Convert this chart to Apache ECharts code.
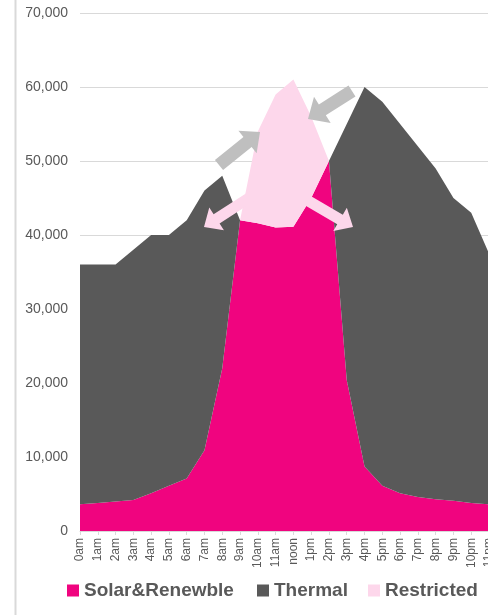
<!DOCTYPE html>
<html>
<head>
<meta charset="utf-8">
<script src="https://cdn.jsdelivr.net/npm/echarts@6/dist/echarts.min.js"></script>
<style>
  html, body { margin: 0; padding: 0; background: #fff; }
  #chart { width: 488px; height: 615px; }
</style>
</head>
<body>
<div id="chart"></div>
<script>
// hours of the day
const hours = ["0am", "1am", "2am", "3am", "4am", "5am", "6am", "7am", "8am", "9am", "10am", "11am",
  "noon", "1pm", "2pm", "3pm", "4pm", "5pm", "6pm", "7pm", "8pm", "9pm", "10pm", "11pm"];

// stacked values
const solar = [3600, 3800, 4000, 4200, 5100, 6100, 7100, 10900, 22000, 42000, 41600, 41000,
  41100, 45000, 50000, 20400, 8700, 6100, 5100, 4600, 4300, 4100, 3800, 3600];
const thermal = [32400, 32200, 32000, 33800, 34900, 33900, 34900, 35100, 26000, 0, 0, 0,
  0, 0, 0, 34600, 51300, 51900, 49900, 47400, 44700, 40900, 39200, 33900];
const restricted = [0, 0, 0, 0, 0, 0, 0, 0, 0, 0, 12400, 18000,
  19900, 11000, 0, 0, 0, 0, 0, 0, 0, 0, 0, 0];

const C_SOLAR = "#F0047F";
const C_THERMAL = "#595959";
const C_RESTRICTED = "#FDD7EB";
const C_ARROW = "#BFBFBF";

// block arrow polygon from tail to tip
function arrow(tail, tip, shaft, headW, headL, color) {
  const dx = tip[0] - tail[0], dy = tip[1] - tail[1];
  const len = Math.sqrt(dx * dx + dy * dy);
  const ux = dx / len, uy = dy / len;
  const nx = -uy, ny = ux;
  const bx = tip[0] - ux * headL, by = tip[1] - uy * headL;
  const s = shaft / 2, h = headW / 2;
  return {
    type: "polygon",
    z: 100,
    shape: {
      points: [
        [tail[0] + nx * s, tail[1] + ny * s],
        [bx + nx * s, by + ny * s],
        [bx + nx * h, by + ny * h],
        tip,
        [bx - nx * h, by - ny * h],
        [bx - nx * s, by - ny * s],
        [tail[0] - nx * s, tail[1] - ny * s],
      ],
    },
    style: { fill: color },
  };
}

// one legend per item so each sits where it does in the picture
function legendAt(name, left) {
  return {
    left: left,
    bottom: 10,
    icon: "rect",
    itemWidth: 12,
    itemHeight: 12,
    textStyle: { fontSize: 19, fontWeight: "bold", color: "#595959" },
    data: [name],
  };
}

const chart = echarts.init(document.getElementById("chart"));

const areaSeries = (name, data, color) => ({
  name: name,
  type: "line",
  stack: "total",
  data: data,
  symbol: "none",
  lineStyle: { width: 0 },
  areaStyle: { color: color, opacity: 1 },
  itemStyle: { color: color },
});

chart.setOption({
  backgroundColor: "#fff",
  animation: false,
  textStyle: { fontFamily: "Liberation Sans, Arial, sans-serif" },
  grid: { left: 80, top: 13, bottom: 84, width: 409, containLabel: false, outerBoundsMode: "none" },
  legend: [
    legendAt("Solar&Renewble", 62),
    legendAt("Thermal", 252),
    legendAt("Restricted", 363),
  ],
  xAxis: {
    type: "category",
    boundaryGap: false,
    data: hours,
    axisLine: { lineStyle: { color: "#D9D9D9" } },
    axisTick: { show: true, length: 4, lineStyle: { color: "#D9D9D9" } },
    axisLabel: { rotate: 90, interval: 0, fontSize: 12, color: "#595959", margin: 7 },
  },
  yAxis: {
    type: "value",
    min: 0,
    max: 70000,
    interval: 10000,
    axisLine: { show: false },
    axisTick: { show: false },
    splitLine: { lineStyle: { color: "#D9D9D9" } },
    axisLabel: {
      fontSize: 14,
      color: "#595959",
      margin: 12,
      formatter: (v) => v.toLocaleString("en-US"),
    },
  },
  series: [
    areaSeries("Solar&Renewble", solar, C_SOLAR),
    areaSeries("Thermal", thermal, C_THERMAL),
    areaSeries("Restricted", restricted, C_RESTRICTED),
  ],
  graphic: [
    {
      type: "line",
      shape: { x1: 15.5, y1: 0, x2: 15.5, y2: 615 },
      style: { stroke: "#D9D9D9", lineWidth: 2 },
    },
    arrow([219, 165], [260, 132], 13, 29, 16, C_ARROW),
    arrow([352, 91], [308, 119], 13, 31, 17, C_ARROW),
    arrow([252, 196], [204, 227], 11, 27, 15, C_RESTRICTED),
    arrow([305, 199], [353, 227], 11, 27, 15, C_RESTRICTED),
  ],
});
</script>
</body>
</html>
